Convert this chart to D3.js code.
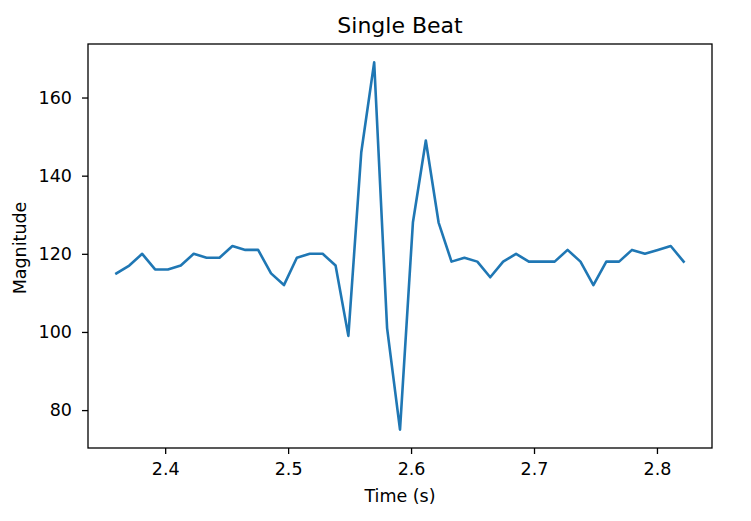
<!DOCTYPE html>
<html>
<head>
<meta charset="utf-8">
<script src="https://cdn.jsdelivr.net/npm/d3@7"></script>
<style>
  body { margin: 0; background: #fff; }
  text { font-family: "DejaVu Sans", sans-serif; fill: #000; }
</style>
</head>
<body>
<script>
//time stamps (s) of the samples
var times = [2.3603, 2.3708, 2.3813, 2.3918, 2.4022, 2.4127, 2.4232, 2.4337, 2.4442, 2.4547,
             2.4652, 2.4756, 2.4861, 2.4966, 2.5071, 2.5176, 2.5281, 2.5386, 2.5490, 2.5595,
             2.5700, 2.5805, 2.5910, 2.6015, 2.6120, 2.6224, 2.6329, 2.6434, 2.6539, 2.6644,
             2.6749, 2.6854, 2.6958, 2.7063, 2.7168, 2.7273, 2.7378, 2.7483, 2.7588, 2.7692,
             2.7797, 2.7902, 2.8007, 2.8112, 2.8217];

//magnitude of each sample
var magnitude = [115, 117, 120, 116, 116, 117, 120, 119, 119, 122,
                 121, 121, 115, 112, 119, 120, 120, 117, 99, 146,
                 169, 101, 75, 128, 149, 128, 118, 119, 118, 114,
                 118, 120, 118, 118, 118, 121, 118, 112, 118, 118,
                 121, 120, 121, 122, 118];

var xTicks = [2.4, 2.5, 2.6, 2.7, 2.8],
    yTicks = [80, 100, 120, 140, 160];

var titleText = "Single Beat",
    xLabel = "Time (s)",
    yLabel = "Magnitude";

//dimensioni (niente "top": e' gia' window.top)
var width = 751,
    height = 521,
    plotL = 88,
    plotR = 712,
    plotT = 44,
    plotB = 448;

var svg = d3.select("body").append("svg")
    .attr("width", width)
    .attr("height", height);

var points = times.map(function(t, i) { return {t: t, v: magnitude[i]}; });

//margini come matplotlib (5%)
var tExt = d3.extent(times),
    vExt = d3.extent(magnitude),
    tPad = (tExt[1] - tExt[0]) * 0.05,
    vPad = (vExt[1] - vExt[0]) * 0.05;

var x = d3.scaleLinear()
    .domain([tExt[0] - tPad, tExt[1] + tPad])
    .range([plotL, plotR]);

var y = d3.scaleLinear()
    .domain([vExt[0] - vPad, vExt[1] + vPad])
    .range([plotB, plotT]);

//assi
var xAxis = svg.append("g")
    .attr("transform", "translate(0," + plotB + ")")
    .call(d3.axisBottom(x).tickValues(xTicks).tickFormat(d3.format(".1f")).tickSize(6).tickPadding(9));

var yAxis = svg.append("g")
    .attr("transform", "translate(" + plotL + ",0)")
    .call(d3.axisLeft(y).tickValues(yTicks).tickFormat(d3.format("d")).tickSize(6).tickPadding(10));

[xAxis, yAxis].forEach(function(a) {
    a.select(".domain").remove();
    a.selectAll(".tick line").attr("stroke", "#000").attr("stroke-width", 1.3);
    a.selectAll(".tick text")
        .attr("font-family", "DejaVu Sans")
        .attr("font-size", "17.5px")
        .attr("fill", "#000");
});

//linea
var line = d3.line()
    .x(function(d) { return x(d.t); })
    .y(function(d) { return y(d.v); });

svg.append("path")
    .datum(points)
    .attr("d", line)
    .attr("fill", "none")
    .attr("stroke", "#1f77b4")
    .attr("stroke-width", 2.6)
    .attr("stroke-linejoin", "round")
    .attr("stroke-linecap", "square");

//bordo
svg.append("rect")
    .attr("x", plotL)
    .attr("y", plotT)
    .attr("width", plotR - plotL)
    .attr("height", plotB - plotT)
    .attr("fill", "none")
    .attr("stroke", "#000")
    .attr("stroke-width", 1.3);

//testi
svg.append("text")
    .attr("x", (plotL + plotR) / 2)
    .attr("y", 33)
    .attr("text-anchor", "middle")
    .attr("font-size", "22px")
    .text(titleText);

svg.append("text")
    .attr("x", (plotL + plotR) / 2)
    .attr("y", 502)
    .attr("text-anchor", "middle")
    .attr("font-size", "17.5px")
    .text(xLabel);

svg.append("text")
    .attr("transform", "translate(26," + ((plotT + plotB) / 2 + 2) + ")rotate(-90)")
    .attr("text-anchor", "middle")
    .attr("font-size", "17.5px")
    .text(yLabel);
</script>
</body>
</html>
